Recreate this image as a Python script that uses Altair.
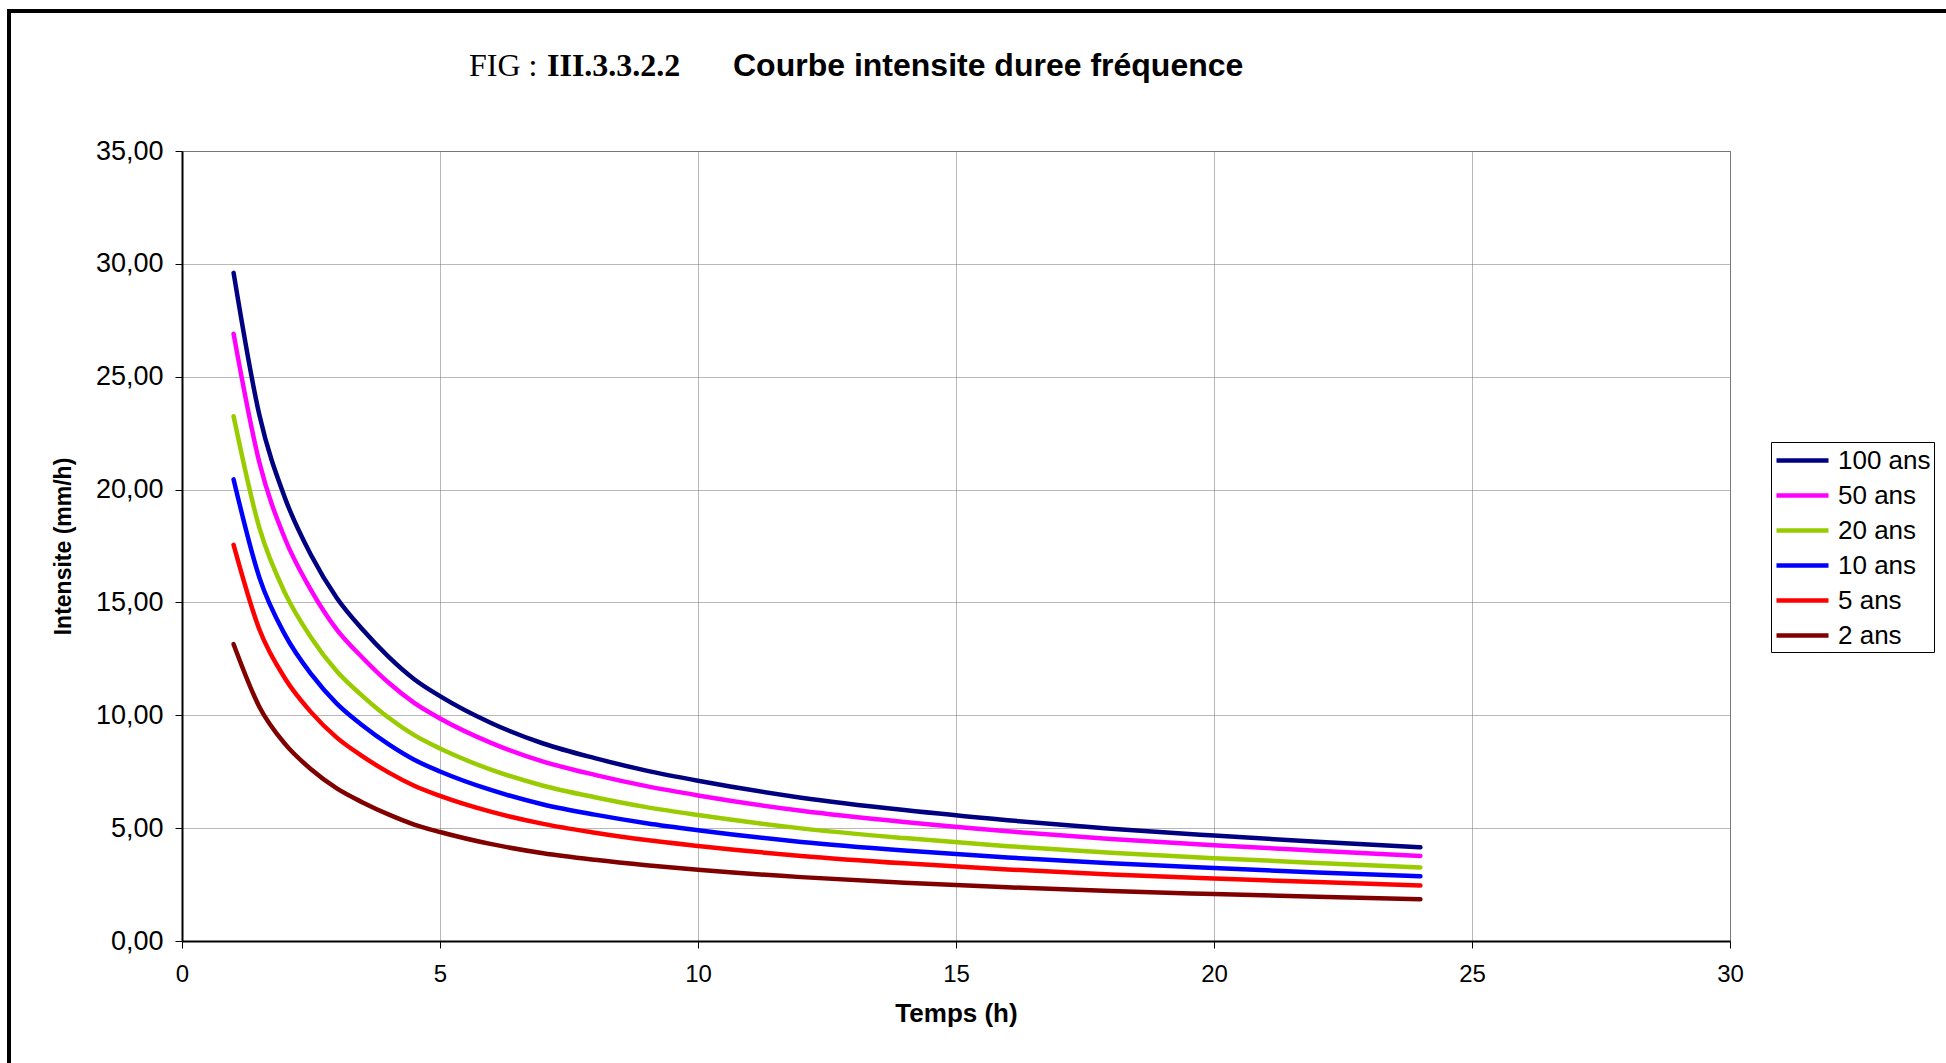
import altair as alt
import pandas as pd

# ---- data ----
times = [1, 1.5, 2, 2.5, 3, 3.5, 4, 4.5, 5, 6, 7, 8, 9, 10, 12, 14, 16, 18, 20, 22, 24]
i100 = [29.6, 23.3, 19.6, 17.1, 15.2, 13.8, 12.6, 11.6, 10.85, 9.65, 8.75, 8.1, 7.55, 7.1, 6.35, 5.8, 5.35, 4.97, 4.67, 4.4, 4.15]
i50 = [26.9, 21.2, 17.8, 15.55, 13.8, 12.55, 11.45, 10.55, 9.86, 8.77, 7.95, 7.36, 6.86, 6.45, 5.77, 5.27, 4.86, 4.52, 4.24, 4.0, 3.77]
i20 = [23.25, 18.3, 15.4, 13.45, 11.95, 10.85, 9.9, 9.12, 8.53, 7.58, 6.88, 6.37, 5.93, 5.58, 4.99, 4.56, 4.2, 3.91, 3.67, 3.46, 3.26]
i10 = [20.45, 16.1, 13.55, 11.83, 10.52, 9.55, 8.72, 8.03, 7.51, 6.68, 6.05, 5.6, 5.22, 4.91, 4.39, 4.01, 3.7, 3.44, 3.23, 3.04, 2.87]
i5 = [17.55, 13.8, 11.62, 10.14, 9.01, 8.18, 7.47, 6.88, 6.43, 5.72, 5.19, 4.8, 4.47, 4.21, 3.77, 3.44, 3.17, 2.95, 2.77, 2.61, 2.46]
i2 = [13.15, 10.37, 8.72, 7.61, 6.76, 6.14, 5.61, 5.16, 4.83, 4.29, 3.89, 3.6, 3.36, 3.16, 2.83, 2.58, 2.38, 2.21, 2.08, 1.96, 1.85]

series_names = ["100 ans", "50 ans", "20 ans", "10 ans", "5 ans", "2 ans"]
series_values = [i100, i50, i20, i10, i5, i2]
series_colors = ["#000080", "#FF00FF", "#99CC00", "#0000FF", "#FF0000", "#800000"]

x_ticks = [0, 5, 10, 15, 20, 25, 30]
y_ticks = [0, 5, 10, 15, 20, 25, 30, 35]

rows = []
for name, vals in zip(series_names, series_values):
    for t, v in zip(times, vals):
        rows.append({"Temps": t, "Intensite": v, "Serie": name})
df = pd.DataFrame(rows)

W, H = 1548, 790
PAD_L, PAD_T = 182, 151

lines = alt.Chart(df).mark_line(strokeWidth=4.5, interpolate="monotone", strokeCap="round").encode(
    x=alt.X("Temps:Q", title="Temps (h)",
            scale=alt.Scale(domain=[0, 30], nice=False),
            axis=alt.Axis(values=x_ticks, format="d", labelFontSize=24, titleFontSize=26,
                          titleFontWeight="bold", labelPadding=14, titlePadding=14,
                          tickSize=7, labelFlush=False)),
    y=alt.Y("Intensite:Q", title="Intensite (mm/h)",
            scale=alt.Scale(domain=[0, 35], nice=False),
            axis=alt.Axis(values=y_ticks, labelExpr="replace(format(datum.value, '.2f'), '.', ',')",
                          labelFontSize=27, titleFontSize=23, titleFontWeight="bold",
                          labelPadding=12, titlePadding=20, tickSize=7, labelFlush=False)),
    color=alt.Color("Serie:N", sort=series_names,
                    scale=alt.Scale(domain=series_names, range=series_colors),
                    legend=alt.Legend(title=None, orient="none", legendX=1589, legendY=291,
                                      strokeColor="#000000", fillColor="#FFFFFF", padding=3,
                                      labelFontSize=26, labelColor="#000000", labelFont="Liberation Sans",
                                      symbolType="M-1,0H3", symbolSize=676, symbolStrokeWidth=4.5,
                                      labelOffset=33, rowPadding=6)),
    order=alt.Order("Temps:Q"),
)

fig_df = pd.DataFrame({"t": ["FIG :"]})
num_df = pd.DataFrame({"t": ["III.3.3.2.2"]})
ttl_df = pd.DataFrame({"t": ["Courbe intensite duree fréquence"]})

fig_txt = alt.Chart(fig_df).mark_text(font="Liberation Serif", fontSize=32, align="left",
                                      baseline="alphabetic", color="black").encode(
    text="t:N", x=alt.value(469 - PAD_L), y=alt.value(76 - PAD_T))
num_txt = alt.Chart(num_df).mark_text(font="Liberation Serif", fontSize=32, fontWeight="bold",
                                      align="left", baseline="alphabetic", color="black").encode(
    text="t:N", x=alt.value(547 - PAD_L), y=alt.value(76 - PAD_T))
ttl_txt = alt.Chart(ttl_df).mark_text(font="Liberation Sans", fontSize=32, fontWeight="bold",
                                      align="left", baseline="alphabetic", color="black").encode(
    text="t:N", x=alt.value(733 - PAD_L), y=alt.value(76 - PAD_T))

frame = alt.Chart(pd.DataFrame({"k": [0]})).mark_rect(fill=None, stroke="black", strokeWidth=4).encode(
    x=alt.value(9 - PAD_L), y=alt.value(11 - PAD_T), x2=alt.value(2100), y2=alt.value(1200))

chart = alt.layer(lines, fig_txt, num_txt, ttl_txt, frame).properties(
    width=W, height=H,
    autosize=alt.AutoSizeParams(type="none"),
    padding={"left": PAD_L, "top": PAD_T, "right": 1946 - PAD_L - W, "bottom": 1063 - PAD_T - H},
    background="white",
).configure_view(stroke="#808080", strokeWidth=1).configure_axis(
    labelFont="Liberation Sans", titleFont="Liberation Sans", labelColor="black", titleColor="black",
    gridColor="#707070", gridDash=[1, 1], gridWidth=1, domainColor="black", domainWidth=2,
    tickColor="black", tickWidth=1,
)

chart.save("out.html", embed_options={"renderer": "svg", "actions": False})
